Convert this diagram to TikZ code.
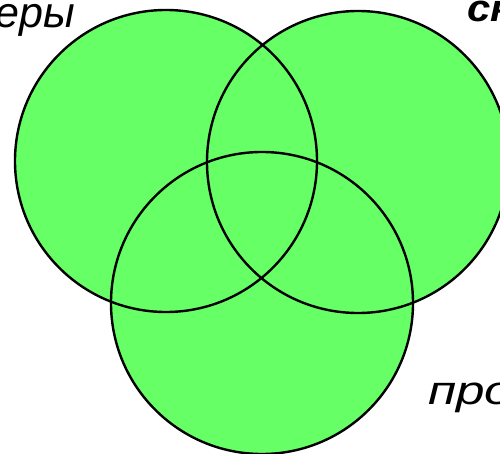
\documentclass[tikz,border=0pt]{standalone}
\usepackage{fontspec}
\setmainfont{Liberation Sans}
\definecolor{vgreen}{RGB}{102,255,102}
\begin{document}
\begin{tikzpicture}[x=1pt,y=-1pt,
  setfill/.style={fill=vgreen,draw=none},
  setline/.style={draw=black,line width=2.4pt},
  lbl/.style={anchor=base west,inner sep=0pt,font=\fontsize{40}{42}\selectfont\itshape}]
\useasboundingbox (0,0) rectangle (500,454);
\fill[setfill] (166,161) circle (151);
\fill[setfill] (358,162) circle (151);
\fill[setfill] (262,303) circle (151);
\draw[setline] (166,161) circle (151);
\draw[setline] (358,162) circle (151);
\draw[setline] (262,303) circle (151);
\node[lbl,font=\fontsize{43}{45}\selectfont\itshape] (t1) at (-5,28) {еры};
\node[lbl,font=\fontsize{38}{40}\selectfont\itshape\bfseries] (t2) at (467,22) {\scalebox{1.1}[1]{ск}};
\node[lbl] (t3) at (428,404) {\scalebox{1.28}[1]{про}};
\end{tikzpicture}
\end{document}
